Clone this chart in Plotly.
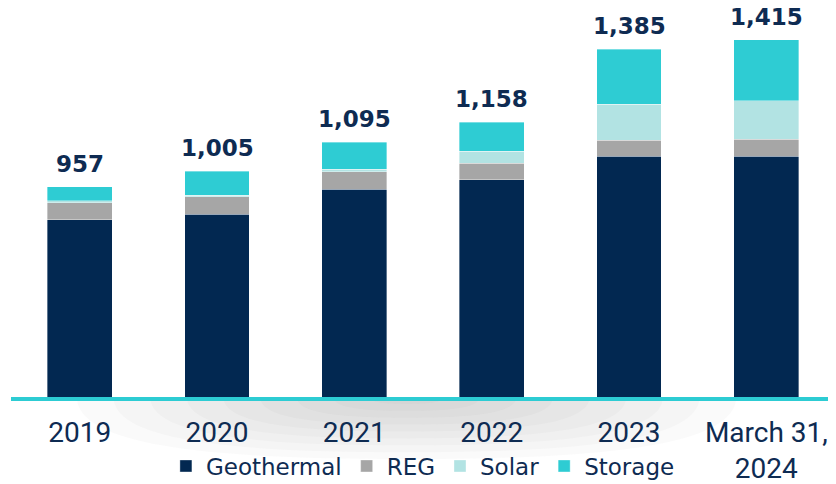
import plotly.graph_objects as go

categories = ["2019", "2020", "2021", "2022", "2023", "March 31,<br>2024"]
geothermal = [853, 871, 949, 978, 1051, 1051]
reg = [53, 54, 54, 52, 51, 53]
solar = [6, 5, 8, 38, 112, 121]
storage = [45, 75, 84, 90, 171, 190]
totals = [957, 1005, 1095, 1158, 1385, 1415]
total_labels = ["957", "1,005", "1,095", "1,158", "1,385", "1,415"]

NAVY = "#022851"
TEXT = "#0E2B52"

series = [
    ("Geothermal", geothermal, NAVY),
    ("REG", reg, "#A6A6A6"),
    ("Solar", solar, "#B2E3E3"),
    ("Storage", storage, "#2ECCD3"),
]

fig = go.Figure()
for name, vals, color in series:
    fig.add_trace(go.Bar(
        x=categories, y=vals, name=name,
        marker=dict(color=color, line=dict(color="rgba(255,255,255,0.6)", width=0.6)),
        hoverinfo="skip",
    ))

stack_tops = [g + r + s + t for g, r, s, t in zip(geothermal, reg, solar, storage)]
for i, (top, lab) in enumerate(zip(stack_tops, total_labels)):
    fig.add_annotation(
        x=i, y=top, text=lab, showarrow=False, yanchor="middle", yshift=23,
        font=dict(family="DejaVu Sans", size=23, color=TEXT, weight=800),
    )

# soft shadow under the axis line (decorative)
shapes = []
n = 9
for i in range(n):
    f = 1 - i / n
    x0 = 0.5 - 0.40 * f - 0.02
    x1 = 0.5 + 0.40 * f - 0.02
    depth = 0.12 * f
    xm = (x0 + x1) / 2
    path = (f"M{x0},0 C{x0},{-depth*1.1} {xm-(xm-x0)*0.55},{-depth*1.33} {xm},{-depth*1.33} "
            f"C{xm+(x1-xm)*0.55},{-depth*1.33} {x1},{-depth*1.1} {x1},0 Z")
    shapes.append(dict(type="path", xref="paper", yref="paper", path=path,
                       fillcolor="#7a7a7a", opacity=0.035, line=dict(width=0), layer="below"))

fig.update_layout(
    width=828, height=476,
    margin=dict(l=3, r=1, t=0, b=87, autoexpand=False),
    barmode="stack",
    bargap=0.527,
    paper_bgcolor="white",
    plot_bgcolor="white",
    shapes=shapes,
    showlegend=True,
    legend=dict(
        orientation="h", x=0.188, xanchor="left", y=-0.1774, yanchor="middle",
        font=dict(family="DejaVu Sans", size=23, color=TEXT),
        itemwidth=30, traceorder="normal", bgcolor="rgba(0,0,0,0)",
        itemclick=False, itemdoubleclick=False,
    ),
    xaxis=dict(
        type="category", range=[-0.5, 5.5], automargin=False,
        showgrid=False, zeroline=False, showline=True, linecolor="#2DCCD3", linewidth=4,
        ticks="", tickfont=dict(family="Roboto", size=28, color=TEXT),
        ticklabelstandoff=7, fixedrange=True,
    ),
    yaxis=dict(
        range=[300, 1514.5], visible=False, showgrid=False, zeroline=False, fixedrange=True,
    ),
)

fig.write_html("out.html")
